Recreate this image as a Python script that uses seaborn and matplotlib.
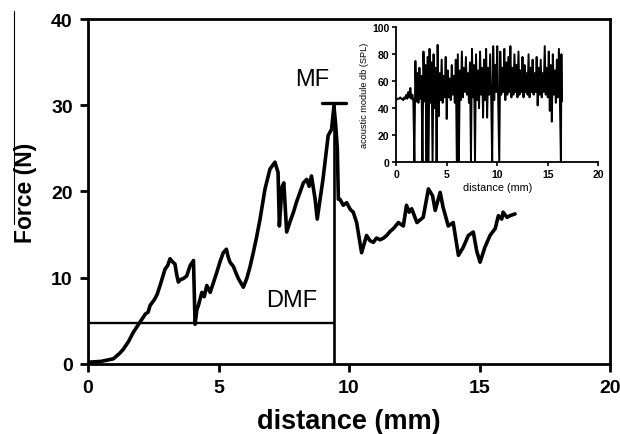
import numpy as np
import pandas as pd
import matplotlib
matplotlib.use("Agg")
import matplotlib.pyplot as plt
from matplotlib.lines import Line2D
import seaborn as sns

# ---- main force curve (distance mm, force N) ----
force_dist = [0.0, 0.5, 0.97, 1.2, 1.35, 1.55, 1.74, 1.85, 2.0, 2.2, 2.3, 2.38, 2.55, 2.65, 2.76,
              2.95, 3.05, 3.14, 3.25, 3.33, 3.4, 3.46, 3.55, 3.65, 3.78, 3.91, 4.04, 4.1, 4.17,
              4.23, 4.3, 4.36, 4.45, 4.55, 4.68, 4.8, 4.93, 5.05, 5.18, 5.3, 5.37, 5.44, 5.57,
              5.66, 5.76, 5.95, 6.08, 6.2, 6.33, 6.45, 6.59, 6.78, 6.97, 7.16, 7.28, 7.33, 7.43,
              7.5, 7.61, 7.75, 7.87, 8.0, 8.12, 8.25, 8.38, 8.47, 8.56, 8.7, 8.78, 9.0, 9.2,
              9.33, 9.42, 9.48, 9.55, 9.59, 9.65, 9.78, 9.91, 10.05, 10.16, 10.29, 10.48, 10.67,
              10.8, 10.93, 11.05, 11.19, 11.32, 11.44, 11.58, 11.7, 11.89, 12.08, 12.2, 12.3,
              12.4, 12.6, 12.84, 13.04, 13.2, 13.3, 13.49, 13.6, 13.8, 13.99, 14.19, 14.37,
              14.47, 14.57, 14.76, 14.89, 15.02, 15.2, 15.4, 15.6, 15.72, 15.85, 15.9, 16.05,
              16.17, 16.36]
force_val = [0.2, 0.3, 0.6, 1.2, 1.7, 2.6, 3.7, 4.2, 4.9, 5.8, 6.0, 6.8, 7.5, 8.1, 9.1,
             11.0, 11.4, 12.2, 11.8, 11.6, 10.3, 9.5, 9.8, 9.9, 10.2, 11.4, 12.0, 4.6, 6.3,
             6.8, 7.6, 8.3, 7.8, 9.1, 8.3, 9.4, 10.6, 11.8, 12.9, 13.3, 12.4, 11.8, 11.3,
             10.6, 9.9, 8.9, 9.9, 11.2, 12.9, 14.6, 16.8, 20.3, 22.6, 23.4, 22.2, 16.0, 20.5,
             21.0, 15.3, 16.6, 17.6, 18.9, 19.9, 21.0, 21.4, 20.6, 21.8, 19.1, 16.8, 21.4, 26.5,
             27.2, 29.9, 28.0, 25.0, 19.1, 19.1, 18.4, 18.7, 17.9, 17.6, 16.4, 12.9, 14.9,
             14.3, 14.1, 14.6, 14.4, 14.6, 14.9, 15.4, 15.7, 16.4, 16.0, 18.4, 17.6,
             18.0, 16.4, 17.0, 20.3, 19.5, 17.8, 19.9, 18.2, 16.0, 16.4, 12.6, 13.5,
             14.2, 14.9, 15.3, 13.1, 11.8, 13.5, 14.9, 15.7, 17.2, 16.8, 17.6, 17.0,
             17.2, 17.4]

# markers
mf_dist = 9.43
mf_force = 30.3
dmf_force = 4.8

# ---- inset acoustic signal (distance mm, dB SPL) ----
ac_dist = [0.0, 0.1, 0.2, 0.3, 0.4, 0.5, 0.6, 0.7, 0.8, 0.9, 1.0, 1.1, 1.2, 1.3, 1.4, 1.5, 1.6, 1.7,
           1.8, 1.9, 2.0, 2.1, 2.2, 2.3, 2.4, 2.5, 2.6, 2.7, 2.8, 2.9, 3.0, 3.1, 3.2, 3.3, 3.4, 3.5,
           3.6, 3.7, 3.8, 3.9, 4.0, 4.1, 4.2, 4.3, 4.4, 4.5, 4.6, 4.7, 4.8, 4.9, 5.0, 5.1, 5.2, 5.3,
           5.4, 5.5, 5.6, 5.7, 5.8, 5.9, 6.0, 6.1, 6.2, 6.3, 6.4, 6.5, 6.6, 6.7, 6.8, 6.9, 7.0, 7.1,
           7.2, 7.3, 7.4, 7.5, 7.6, 7.7, 7.8, 7.9, 8.0, 8.1, 8.2, 8.3, 8.4, 8.5, 8.6, 8.7, 8.8, 8.9,
           9.0, 9.1, 9.2, 9.3, 9.4, 9.5, 9.6, 9.7, 9.8, 9.9, 10.0, 10.1, 10.2, 10.3, 10.4, 10.5,
           10.6, 10.7, 10.8, 10.9, 11.0, 11.1, 11.2, 11.3, 11.4, 11.5, 11.6, 11.7, 11.8, 11.9,
           12.0, 12.1, 12.2, 12.3, 12.4, 12.5, 12.6, 12.7, 12.8, 12.9, 13.0, 13.1, 13.2, 13.3,
           13.4, 13.5, 13.6, 13.7, 13.8, 13.9, 14.0, 14.1, 14.2, 14.3, 14.4, 14.5, 14.6, 14.7,
           14.8, 14.9, 15.0, 15.1, 15.2, 15.3, 15.4, 15.5, 15.6, 15.7, 15.8, 15.9, 16.0, 16.1,
           16.2, 16.3, 16.35, 16.4]
ac_db = [46, 47, 47, 47, 48, 47, 47, 46, 48, 47, 50, 47, 52, 48, 55, 47, 50, 45,
         0, 75, 45, 66, 44, 70, 47, 64, 0, 82, 45, 72, 0, 78, 0, 84, 44, 74,
         0, 80, 40, 70, 0, 87, 34, 66, 46, 76, 44, 64, 48, 78, 32, 68, 48, 62,
         46, 72, 50, 64, 44, 76, 0, 80, 0, 68, 46, 82, 48, 70, 52, 78, 50, 66,
         44, 74, 0, 84, 48, 72, 0, 80, 46, 68, 40, 82, 50, 70, 33, 76, 46, 84,
         33, 70, 50, 80, 48, 0, 86, 46, 72, 52, 86, 44, 0, 82, 50, 70,
         52, 84, 46, 74, 50, 78, 52, 86, 48, 70, 50, 80, 52, 72,
         48, 82, 50, 68, 52, 78, 48, 72, 52, 66, 50, 80, 48, 70,
         52, 76, 50, 66, 52, 78, 42, 70, 50, 76, 48, 66, 52, 86,
         50, 70, 48, 82, 38, 72, 30, 80, 50, 68, 44, 76, 48, 84,
         46, 0, 80, 45]

sns.set_style("ticks")
plt.rcParams['font.family'] = ['Liberation Sans', 'DejaVu Sans']
plt.rcParams.update({"text.color": "black", "axes.labelcolor": "black",
                     "xtick.color": "black", "ytick.color": "black",
                     "axes.edgecolor": "black"})

fig = plt.figure(figsize=(6.2, 4.35), dpi=100)
ax = fig.add_axes([0.142, 0.161, 0.842, 0.793])

df = pd.DataFrame({"distance": force_dist, "force": force_val})
sns.lineplot(data=df, x="distance", y="force", ax=ax, color="black", lw=2.6,
             sort=False, estimator=None)

# DMF horizontal line and MF vertical marker
ax.plot([0, mf_dist], [dmf_force, dmf_force], color="black", lw=1.7)
ax.plot([mf_dist, mf_dist], [0, mf_force], color="black", lw=1.9)
ax.plot([mf_dist - 0.45, mf_dist + 0.45], [mf_force, mf_force], color="black", lw=2.4)
ax.text(8.6, 33.0, "MF", fontsize=17, ha="center", va="center")
ax.text(7.8, 7.4, "DMF", fontsize=17, ha="center", va="center")

ax.set_xlim(0, 20)
ax.set_ylim(0, 40)
ax.set_xticks([0, 5, 10, 15, 20])
ax.set_yticks([0, 10, 20, 30, 40])
ax.set_xlabel("distance (mm)", fontsize=19.5, fontweight="bold")
ax.set_ylabel("Force (N)", fontsize=16.5, fontweight="bold")
ax.xaxis.set_label_coords(0.5, -0.128)
ax.yaxis.set_label_coords(-0.097, 0.5)
for lab in ax.get_xticklabels() + ax.get_yticklabels():
    lab.set_fontweight("bold")
ax.tick_params(axis="both", labelsize=14, width=2, length=6, direction="out", pad=5)
for s in ax.spines.values():
    s.set_linewidth(2)
    s.set_color("black")

# inset
axi = fig.add_axes([0.639, 0.625, 0.326, 0.310])
di = pd.DataFrame({"distance": ac_dist, "db": ac_db})
sns.lineplot(data=di, x="distance", y="db", ax=axi, color="black", lw=1.4,
             sort=False, estimator=None)
axi.set_xlim(0, 20)
axi.set_ylim(0, 100)
axi.set_xticks([0, 5, 10, 15, 20])
axi.set_yticks([0, 20, 40, 60, 80, 100])
axi.set_xlabel("distance (mm)", fontsize=7.8, labelpad=2)
axi.set_ylabel("acoustic module db (SPL)", fontsize=6.6, labelpad=2)
for lab in axi.get_xticklabels() + axi.get_yticklabels():
    lab.set_fontweight("bold")
axi.tick_params(axis="both", labelsize=7.5, width=1.2, length=3, pad=2)
axi.spines["top"].set_visible(False)
axi.spines["right"].set_visible(False)
for s in ["left", "bottom"]:
    axi.spines[s].set_linewidth(1.3)
axi.patch.set_alpha(0)

# stray vertical rule at left edge of the figure
fig.add_artist(Line2D([14 / 620, 14 / 620], [1 - 12 / 435, 1 - 225 / 435],
                      color="black", lw=0.8, transform=fig.transFigure))

fig.savefig("out.png", dpi=100)
